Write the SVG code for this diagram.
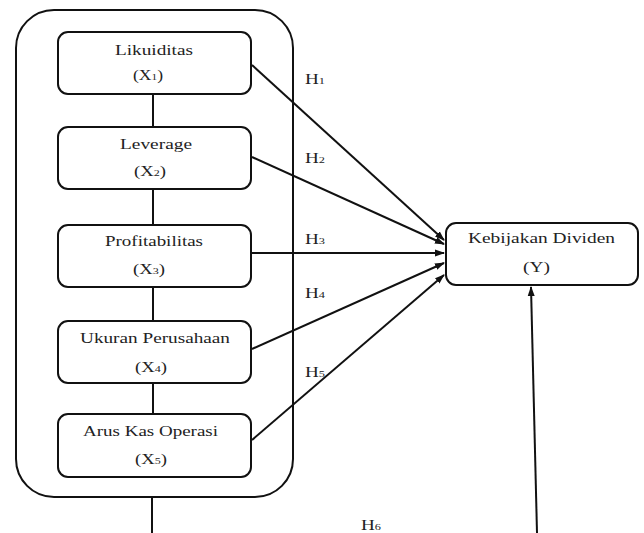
<svg xmlns="http://www.w3.org/2000/svg" width="644" height="533" viewBox="0 0 644 533">
<style>
.box{fill:#fff;stroke:#111;stroke-width:2}
.ln{stroke:#111;stroke-width:2;fill:none}
.t{font-family:"Liberation Serif","Times New Roman",serif;font-size:14px;fill:#222}
.s{font-size:9px}
</style>
<defs>
<marker id="ah" markerWidth="10" markerHeight="8" refX="9" refY="4" orient="auto" markerUnits="userSpaceOnUse">
<path d="M0,0.5 L10,4 L0,7.5 z" fill="#111"/>
</marker>
</defs>
<rect width="644" height="533" fill="#fff"/>
<g id="container">
<rect class="box" x="16" y="10" width="277" height="487" rx="38" ry="38"/>
</g>
<g id="connectors">
<line class="ln" x1="153" y1="94" x2="153" y2="127"/>
<line class="ln" x1="153" y1="189" x2="153" y2="225"/>
<line class="ln" x1="153" y1="287" x2="153" y2="321"/>
<line class="ln" x1="153" y1="383" x2="153" y2="414"/>
<line class="ln" x1="152" y1="497" x2="152" y2="533"/>
<line class="ln" x1="252" y1="65" x2="444" y2="240" marker-end="url(#ah)"/>
<line class="ln" x1="252" y1="157" x2="444" y2="244" marker-end="url(#ah)"/>
<line class="ln" x1="252" y1="253" x2="444" y2="253" marker-end="url(#ah)"/>
<line class="ln" x1="252" y1="349" x2="444" y2="263" marker-end="url(#ah)"/>
<line class="ln" x1="252" y1="440" x2="444" y2="275" marker-end="url(#ah)"/>
<line class="ln" x1="537" y1="533" x2="531" y2="287" marker-end="url(#ah)"/>
<text class="t" x="305" y="84" textLength="20" lengthAdjust="spacingAndGlyphs">H<tspan class="s">1</tspan></text>
<text class="t" x="305" y="163" textLength="20" lengthAdjust="spacingAndGlyphs">H<tspan class="s">2</tspan></text>
<text class="t" x="305" y="244" textLength="20" lengthAdjust="spacingAndGlyphs">H<tspan class="s">3</tspan></text>
<text class="t" x="305" y="298" textLength="20" lengthAdjust="spacingAndGlyphs">H<tspan class="s">4</tspan></text>
<text class="t" x="305" y="377" textLength="20" lengthAdjust="spacingAndGlyphs">H<tspan class="s">5</tspan></text>
<text class="t" x="361" y="530" textLength="20" lengthAdjust="spacingAndGlyphs">H<tspan class="s">6</tspan></text>
</g>
<g id="x1">
<rect class="box" x="58" y="32" width="193" height="62" rx="10"/>
<text class="t" x="115" y="55" textLength="78" lengthAdjust="spacingAndGlyphs">Likuiditas</text>
<text class="t" x="133" y="80" textLength="30" lengthAdjust="spacingAndGlyphs">(X<tspan class="s">1</tspan>)</text>
</g>
<g id="x2">
<rect class="box" x="58" y="127" width="193" height="62" rx="10"/>
<text class="t" x="120" y="149" textLength="72" lengthAdjust="spacingAndGlyphs">Leverage</text>
<text class="t" x="134" y="176" textLength="32" lengthAdjust="spacingAndGlyphs">(X<tspan class="s">2</tspan>)</text>
</g>
<g id="x3">
<rect class="box" x="58" y="225" width="193" height="62" rx="10"/>
<text class="t" x="105" y="246" textLength="98" lengthAdjust="spacingAndGlyphs">Profitabilitas</text>
<text class="t" x="133" y="274" textLength="32" lengthAdjust="spacingAndGlyphs">(X<tspan class="s">3</tspan>)</text>
</g>
<g id="x4">
<rect class="box" x="58" y="321" width="193" height="62" rx="10"/>
<text class="t" x="80" y="343" textLength="150" lengthAdjust="spacingAndGlyphs">Ukuran Perusahaan</text>
<text class="t" x="135" y="372" textLength="32" lengthAdjust="spacingAndGlyphs">(X<tspan class="s">4</tspan>)</text>
</g>
<g id="x5">
<rect class="box" x="58" y="414" width="193" height="63" rx="10"/>
<text class="t" x="83" y="436" textLength="135" lengthAdjust="spacingAndGlyphs">Arus Kas Operasi</text>
<text class="t" x="135" y="464" textLength="32" lengthAdjust="spacingAndGlyphs">(X<tspan class="s">5</tspan>)</text>
</g>
<g id="y">
<rect class="box" x="446" y="223" width="192" height="62" rx="10"/>
<text class="t" x="468" y="243" textLength="147" lengthAdjust="spacingAndGlyphs">Kebijakan Dividen</text>
<text class="t" x="523" y="272" textLength="27" lengthAdjust="spacingAndGlyphs">(Y)</text>
</g>
</svg>
